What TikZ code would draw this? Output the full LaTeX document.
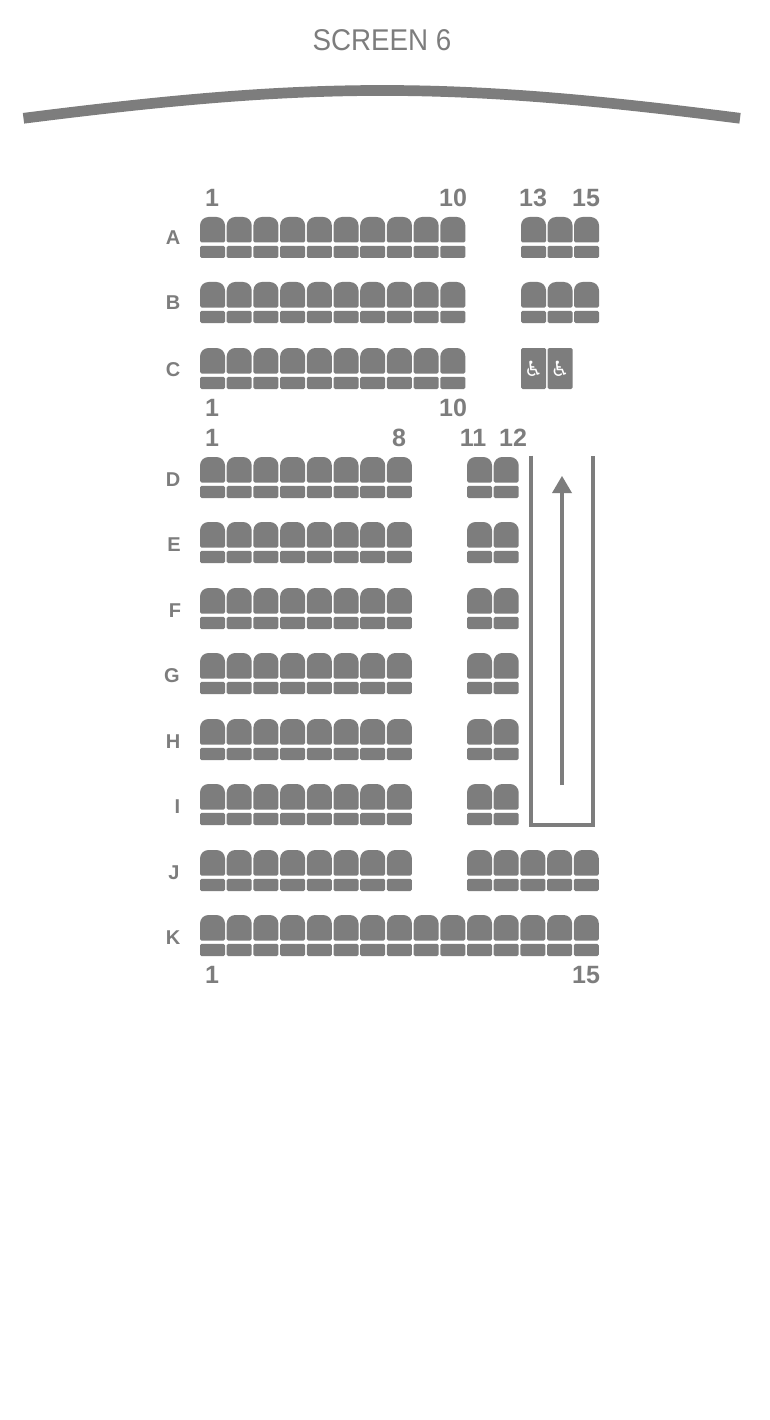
\documentclass[tikz,border=0pt]{standalone}
\usepackage{fontspec}
\setmainfont{Liberation Sans}
\newfontfamily\iconfont{DejaVu Sans}
\definecolor{seatgrey}{HTML}{7D7D7D}
\tikzset{
  x=1pt,y=-1pt,
  seatback/.style={fill=seatgrey,draw=none,rounded corners=1.5pt},
  numlabel/.style={text=seatgrey,font=\fontsize{25}{25}\selectfont\bfseries,inner sep=0pt},
  rowlabel/.style={text=seatgrey,font=\fontsize{20}{20}\selectfont\bfseries,inner sep=0pt},
  wheelicon/.style={text=white,font=\iconfont\fontsize{21}{21}\selectfont,inner sep=0pt},
}
\newcommand{\seatat}[2]{%
  \fill[seatgrey] (#1,#2+25.5) [rounded corners=1.5pt] -- (#1+25,#2+25.5)
     [rounded corners=8.5pt] -- (#1+25,#2) -- (#1,#2)
     [rounded corners=1.5pt] -- cycle;
  \fill[seatback] (#1,#2+28.8) rectangle (#1+25,#2+41);
}
\newcommand{\seatrun}[3]{% first col, last col, y
  \foreach \c in {#1,...,#2}{\pgfmathsetmacro{\sx}{200+26.7*\c}\seatat{\sx}{#3}}%
}
\newcommand{\seatx}[2]{\seatat{#1}{#2}\seatat{#1+26.5}{#2}\seatat{#1+53}{#2}}
\begin{document}
\begin{tikzpicture}
\useasboundingbox (0,0) rectangle (770,1420);
\fill[white] (0,0) rectangle (770,1420);
\node[text=seatgrey,font=\fontsize{30}{30}\selectfont,inner sep=0pt,xscale=0.925] (title) at (382,40) {SCREEN 6};
\draw[seatgrey,line width=10.7pt] (23.5,118.3) .. controls (315,81.2) and (450,81.2) .. (740,118.3);
% rows A-C
\foreach \y in {217,282,348}{\seatrun{0}{9}{\y}}
\seatx{521}{217}
\seatx{521}{282}
\fill[seatback] (521,348) rectangle (546,389);
\fill[seatback] (547.5,348) rectangle (572.5,389);
\node[wheelicon] (w1) at (533.5,368.5) {♿};
\node[wheelicon] (w2) at (560,368.5) {♿};
% rows D-K
\foreach \y in {457,522,588,653,719,784}{\seatrun{0}{7}{\y}\seatrun{10}{11}{\y}}
\seatrun{0}{7}{850}\seatrun{10}{14}{850}
\seatrun{0}{14}{915}
% row labels
\foreach \n/\x/\y in {A/173/238,B/173/303,C/173/370,D/173/480,E/174/545,F/175/611,G/172/676,H/173/742,I/177.5/807,J/174/873,K/173/938}{
  \node[rowlabel] (row\n) at (\x,\y) {\n};
}
% number labels
\node[numlabel] (a1) at (212,198) {1};
\node[numlabel] (a10) at (453,198) {10};
\node[numlabel] (a13) at (533,198) {13};
\node[numlabel] (a15) at (586,198) {15};
\node[numlabel] (c1) at (212,408) {1};
\node[numlabel] (c10) at (453,408) {10};
\node[numlabel] (d1) at (212,438) {1};
\node[numlabel] (d8) at (399,438) {8};
\node[numlabel] (d11) at (473,438) {11};
\node[numlabel] (d12) at (513,438) {12};
\node[numlabel] (k1) at (212,975) {1};
\node[numlabel] (k15) at (586,975) {15};
% aisle
\draw[seatgrey,line width=4pt,line join=miter] (531,455.5) -- (531,825.3) -- (593,825.3) -- (593,455.5);
\draw[seatgrey,line width=3.8pt] (562,785) -- (562,490);
\fill[seatgrey] (562,476) -- (572,493) -- (552,493) -- cycle;
\end{tikzpicture}
\end{document}
